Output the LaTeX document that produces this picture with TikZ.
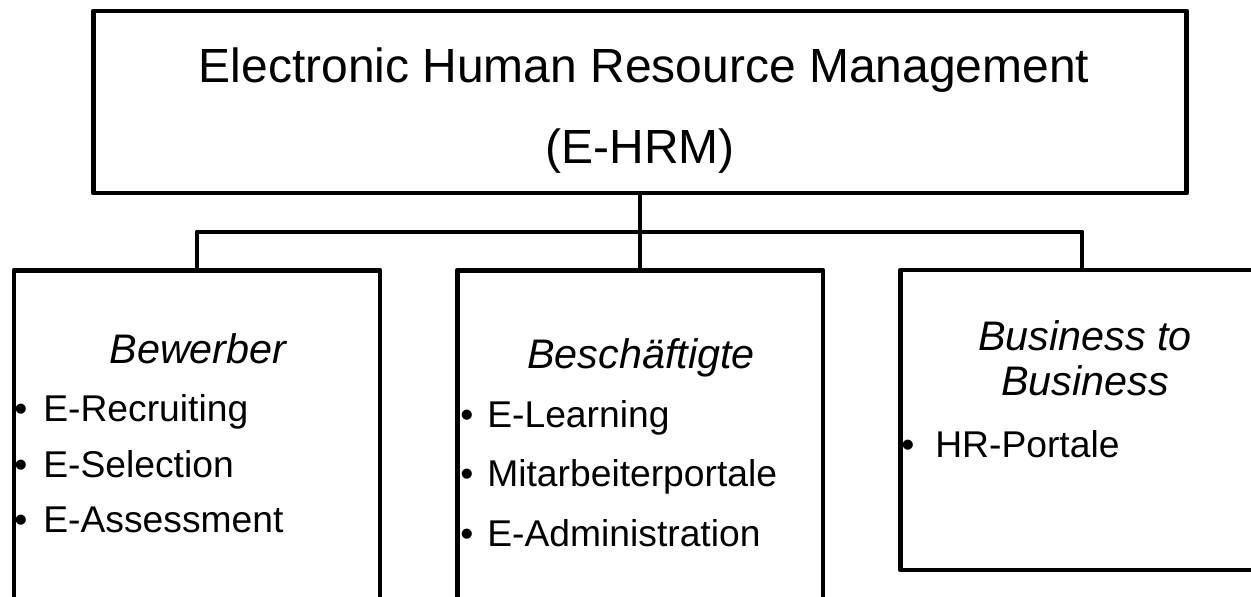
\documentclass[tikz,border=0pt]{standalone}
\usepackage{fontspec}
\setmainfont{Liberation Sans}
\usetikzlibrary{positioning}

\begin{document}
\begin{tikzpicture}[
    x=0.02cm, y=-0.02cm,
    every node/.style={inner sep=0pt},
    box/.style={draw, line width=2.8pt, line join=round, minimum width=7.32cm},
    titel/.style={font=\fontsize{27.3}{32}\selectfont, anchor=base},
    kopf/.style={font=\fontsize{23.5}{28}\selectfont\itshape, anchor=base},
    punkt/.style={font=\fontsize{21.2}{25}\selectfont, anchor=base west},
    conn/.style={line width=2.8pt, line join=round}
]
\useasboundingbox (0,0) rectangle (1251,596);
\clip (0,0) rectangle (1251,596);

\node[box, minimum width=21.88cm, minimum height=3.64cm] (ehrm) at (640,102) {};
\node[titel] (titel1) at (644,82) {Electronic Human Resource Management};
\node[titel] (titel2) at (640,163) {(E-HRM)};

\node[box, minimum height=7.8cm] (bewerber) at (197,465) {};
\node[box, minimum height=7.8cm] (mitte) at (640,465) {};
\node[box, minimum width=7.28cm, minimum height=6cm] (b2b) at (1082,420) {};

% Bewerber
\node[kopf] (k1) at (198,363) {Bewerber};
\node[punkt] (rec) at (14,421) {\makebox[0.58cm][l]{•}E-Recruiting};
\node[punkt] (sel) at (14,477) {\makebox[0.58cm][l]{•}E-Selection};
\node[punkt] (ass) at (14,532) {\makebox[0.58cm][l]{•}E-Assessment};

% Beschaeftigte
\node[kopf] (k2) at (641,368) {Beschäftigte};
\node[punkt] (lea) at (460,427) {\makebox[0.54cm][l]{•}E-Learning};
\node[punkt] (mit) at (460,486) {\makebox[0.54cm][l]{•}Mitarbeiterportale};
\node[punkt] (adm) at (460,546) {\makebox[0.54cm][l]{•}E-Administration};

% Business to Business
\node[kopf] (k3a) at (1085,350) {Business to};
\node[kopf] (k3b) at (1085,395) {Business};
\node[punkt] (hrp) at (901,457) {\makebox[0.68cm][l]{•}HR-Portale};

\coordinate (knick) at (640,232);
\draw[conn] (ehrm.south) -- (mitte.north);
\draw[conn] (bewerber.north) |- (knick) -| (b2b.north);
\end{tikzpicture}
\end{document}
